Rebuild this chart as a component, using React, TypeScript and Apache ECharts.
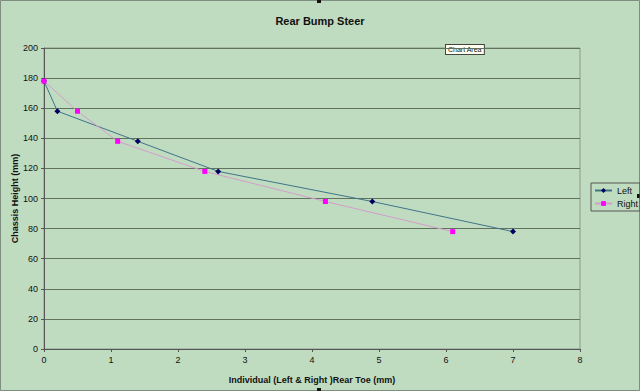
import React, { useEffect, useRef } from "react";
import * as echarts from "echarts";

const leftX = [0, 0.2, 1.4, 2.6, 4.9, 7.0];
const leftY = [178, 158, 138, 118, 98, 78];
const rightX = [0, 0.5, 1.1, 2.4, 4.2, 6.1];
const rightY = [178, 158, 138, 118, 98, 78];
const seriesNames = ["Left", "Right"];
const titleText = "Rear Bump Steer";
const xName = "Individual (Left & Right )Rear Toe (mm)";
const yName = "Chassis Height (mm)";

export default function App() {
  const ref = useRef<HTMLDivElement>(null);
  useEffect(() => {
    if (!ref.current) return;
    const chart = echarts.init(ref.current, null, { renderer: "svg" });
    const font = "Arial, 'Liberation Sans', sans-serif";
    chart.setOption({
      animation: false,
      backgroundColor: "#c0dcc0",
      textStyle: { fontFamily: font },
      title: {
        text: titleText,
        left: "center",
        top: 10,
        textStyle: { fontSize: 11, fontWeight: "bold", color: "#111", fontFamily: font },
      },
      grid: {
        left: 44,
        right: 60,
        top: 48,
        bottom: 42,
        show: true,
        borderColor: "#8a9a8a",
        borderWidth: 1,
        containLabel: false,
        outerBoundsMode: "none",
      },
      xAxis: {
        type: "value",
        min: 0,
        max: 8,
        interval: 1,
        name: xName,
        nameLocation: "middle",
        nameGap: 26,
        nameMoveOverlap: false,
        nameTextStyle: { fontSize: 9, fontWeight: "bold", color: "#111" },
        axisLine: { show: true, lineStyle: { color: "#555", width: 1 } },
        axisTick: { show: true, length: 3, lineStyle: { color: "#555" } },
        axisLabel: { fontSize: 9, color: "#111", margin: 6 },
        splitLine: { show: false },
      },
      yAxis: {
        type: "value",
        min: 0,
        max: 200,
        interval: 20,
        name: yName,
        nameLocation: "middle",
        nameGap: 25,
        nameMoveOverlap: false,
        nameTextStyle: { fontSize: 9, fontWeight: "bold", color: "#111" },
        axisLine: { show: true, lineStyle: { color: "#555", width: 1 } },
        axisTick: { show: true, length: 3, lineStyle: { color: "#555" } },
        axisLabel: { fontSize: 9, color: "#111", margin: 6 },
        splitLine: { show: true, lineStyle: { color: "#5f735f", width: 1 } },
      },
      legend: {
        orient: "vertical",
        left: 591,
        top: 183,
        padding: [3, 2, 3, 3],
        itemGap: 4,
        itemWidth: 17,
        itemHeight: 6,
        borderColor: "#555",
        borderWidth: 1,
        textStyle: { fontSize: 9, color: "#111" },
        data: seriesNames,
      },
      series: [
        {
          name: seriesNames[0],
          type: "line",
          data: leftX.map((x, i) => [x, leftY[i]]),
          symbol: "diamond",
          symbolSize: 6,
          lineStyle: { color: "#3f7488", width: 1 },
          itemStyle: { color: "#000060" },
        },
        {
          name: seriesNames[1],
          type: "line",
          data: rightX.map((x, i) => [x, rightY[i]]),
          symbol: "rect",
          symbolSize: 5,
          lineStyle: { color: "#d49ccc", width: 1 },
          itemStyle: { color: "#ff00ff" },
        },
      ],
      graphic: [
        {
          type: "rect",
          shape: { x: 0.5, y: 0.5, width: 639, height: 390 },
          style: { fill: "none", stroke: "#7f8f7f", lineWidth: 1 },
          silent: true,
        },
        { type: "rect", shape: { x: 317, y: 0, width: 4, height: 3 }, style: { fill: "#111" } },
        { type: "rect", shape: { x: 317, y: 388, width: 4, height: 3 }, style: { fill: "#111" } },
        { type: "rect", shape: { x: 637, y: 194, width: 3, height: 4 }, style: { fill: "#111" } },
        {
          type: "text",
          x: 446,
          y: 45,
          style: {
            text: "Chart Area",
            fontSize: 7,
            fontFamily: font,
            fill: "#111",
            backgroundColor: "#fffff0",
            borderColor: "#444",
            borderWidth: 1,
            padding: [1, 2, 1, 2],
          },
        },
      ],
    });
    return () => chart.dispose();
  }, []);
  return (
    <div
      ref={ref}
      style={{ position: "fixed", left: 0, top: 0, width: 640, height: 391 }}
    />
  );
}
